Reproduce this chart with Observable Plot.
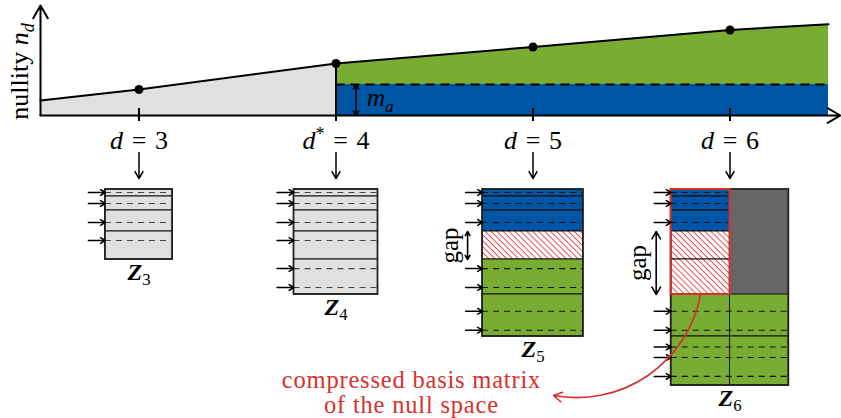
<!DOCTYPE html>
<html><head><meta charset="utf-8">
<script src="https://cdn.jsdelivr.net/npm/d3@7"></script>
<script src="https://cdn.jsdelivr.net/npm/@observablehq/plot@0.6"></script>
<style>
body{margin:0;background:#fff;}
#chart svg{display:block;}
</style></head><body><div id="chart"></div>
<script>
// ---------------- data ----------------
const dTicks = [3, 4, 5, 6];
const tickLabels = ["{i:d}\u2004=\u20043", "{i:d}{sup:*}\u2004=\u20044", "{i:d}\u2004=\u20045", "{i:d}\u2004=\u20046"];
const curveD = [2.5, 3, 4, 5, 6, 6.5];
const curveN = [1.5, 2.6, 5.2, 6.85, 8.55, 9.13];
const dStar = 4;
const mA = 3.1;
const yLabel = "nullity {i:n}{si:d}";
const mALabel = "{i:m}{si:a}";
const matrixD = [3, 4, 5, 6];
const matrixCols = [4, 5, 6, 7];
const matrixNames = ["{bi:Z}{sub:3}", "{bi:Z}{sub:4}", "{bi:Z}{sub:5}", "{bi:Z}{sub:6}"];
const blockSizes = [1, 2, 3, 4, 5, 6, 7];
const blockKinds = [
  ["g", "g", "g", "g"],
  ["g", "g", "g", "g", "g"],
  ["n", "n", "n", "gap", "e", "e"],
  ["n", "n", "n", "gap", "gap", "e", "e"]
];
const z6RightKinds = ["dk", "dk", "dk", "dk", "dk", "e", "e"];
const dashRows = [[0.43], [2.0], [4.71], [7.29], [11.3, 14.0], [17.4, 20.1], [22.5, 24.0, 26.7]];
const gapLabel = "gap";
const noteLines = ["compressed basis matrix", "of the null space"];

// ---------------- styles ----------------
const FONT = "'Liberation Serif', 'DejaVu Serif', serif";
const GRAY = "#e0e0e0", GREEN = "#78ac32", BLUE = "#0055a5", DARK = "#666666", RED = "#d9302c";
const FILL = {g: GRAY, n: BLUE, e: GREEN, gap: "url(#hatch)", dk: DARK};
const PX = 1 / 197; // one pixel in d units
const X = {domain: [2.5, 6.5], range: [40, 828], axis: null};

function richify(svg) {
  const NS = "http://www.w3.org/2000/svg";
  svg.querySelectorAll("text").forEach(t => {
    if (t.querySelector("tspan")) return;
    const s = t.textContent;
    if (!s.includes("{")) return;
    const fs = parseFloat(getComputedStyle(t).fontSize) || 20;
    t.textContent = "";
    const re = /\{(\w+):([^}]*)\}|([^{]+)/g;
    let m, cur = 0;
    while ((m = re.exec(s))) {
      const kind = m[1] || "n";
      const txt = m[1] ? m[2] : m[3];
      const ts = document.createElementNS(NS, "tspan");
      ts.textContent = txt;
      let target = 0;
      if (kind === "i" || kind === "si") ts.setAttribute("font-style", "italic");
      if (kind === "bi") { ts.setAttribute("font-style", "italic"); ts.setAttribute("font-weight", "bold"); }
      if (kind === "sub" || kind === "si") { ts.setAttribute("font-size", (0.7 * fs) + "px"); target = 0.22 * fs; }
      if (kind === "sup") { ts.setAttribute("font-size", (0.7 * fs) + "px"); target = -0.35 * fs; }
      if (target !== cur) { ts.setAttribute("dy", target - cur); cur = target; }
      t.appendChild(ts);
    }
  });
}

// ---------------- top chart ----------------
const curve = curveD.map((d, i) => ({d, n: curveN[i]}));
const nAt = d => curve.find(p => p.d === d).n;
const left = curve.filter(p => p.d <= dStar);
const right = curve.filter(p => p.d >= dStar);
const maX = dStar + 20 * PX;

const A = Plot.plot({
  width: 841, height: 185,
  x: X,
  y: {domain: [0, 11], range: [115, 5], axis: null},
  style: {fontFamily: FONT, background: "white", overflow: "visible"},
  marks: [
    Plot.areaY(left, {x: "d", y1: 0, y2: "n", fill: GRAY}),
    Plot.areaY(right, {x: "d", y1: mA, y2: "n", fill: GREEN}),
    Plot.areaY(right, {x: "d", y1: 0, y2: mA, fill: BLUE}),
    Plot.ruleY([mA], {x1: dStar, x2: 6.5, stroke: "black", strokeWidth: 2, strokeDasharray: "9,6"}),
    Plot.ruleX([dStar], {y1: 0, y2: nAt(dStar), stroke: "black", strokeWidth: 2}),
    Plot.line(curve, {x: "d", y: "n", stroke: "black", strokeWidth: 2}),
    Plot.dot(curve.filter(p => dTicks.includes(p.d)), {x: "d", y: "n", r: 4.5, fill: "black"}),
    Plot.ruleX(dTicks, {y1: 0.7, y2: -0.6, stroke: "black", strokeWidth: 2}),
    Plot.arrow([0], {x1: 2.5, x2: 6.56, y1: 0, y2: 0, stroke: "black", strokeWidth: 2, headLength: 11}),
    Plot.arrow([0], {x1: 2.5, x2: 2.5, y1: 0, y2: 11, stroke: "black", strokeWidth: 2, headLength: 11}),
    Plot.arrow([0], {x1: maX, x2: maX, y1: mA / 2, y2: 0, stroke: "black", strokeWidth: 1.6, headLength: 8}),
    Plot.arrow([0], {x1: maX, x2: maX, y1: mA / 2, y2: mA, stroke: "black", strokeWidth: 1.6, headLength: 8}),
    Plot.text([mALabel], {x: dStar + 31 * PX, y: mA / 2 + 0.2, text: d => d, textAnchor: "start", fontSize: 25, fill: "black"}),
    Plot.text(dTicks, {x: d => d, y: -2.5, text: (d, i) => tickLabels[i], fontSize: 26, fill: "black"}),
    Plot.arrow(dTicks, {x1: d => d, x2: d => d, y1: -3.7, y2: -6.3, stroke: "black", strokeWidth: 1.5, headLength: 8}),
    Plot.text([yLabel], {x: 2.5 - 21 * PX, y: 4.4, text: d => d, rotate: -90, fontSize: 26, fill: "black"})
  ]
});

// ---------------- matrices ----------------
const colW = 16.8 * PX;
const cum = [0];
blockSizes.forEach(s => cum.push(cum[cum.length - 1] + s));
const cells = [], dashes = [], rowArrows = [], frames = [], gaps = [], labels = [];
let redBox = null, z6ColMid = null;
matrixD.forEach((d, m) => {
  const w = matrixCols[m] * colW, x0 = d - w / 2, x1 = d + w / 2;
  const kinds = blockKinds[m];
  const split = m === matrixD.length - 1;
  const xMid = split ? d : x1;
  kinds.forEach((k, b) => {
    cells.push({x1: x0, x2: xMid, y1: cum[b], y2: cum[b + 1], kind: k});
    if (split) cells.push({x1: xMid, x2: x1, y1: cum[b], y2: cum[b + 1], kind: z6RightKinds[b]});
    if (k !== "gap") dashRows[b].forEach(y => {
      const xr = split && z6RightKinds[b] === k ? x1 : xMid;
      dashes.push({x1: x0, x2: xr, y, kind: k});
      rowArrows.push({x: x0, y});
    });
  });
  const gi = kinds.map((k, i) => k === "gap" ? i : -1).filter(i => i >= 0);
  if (gi.length) gaps.push({x: x0, y1: cum[gi[0]], y2: cum[gi[gi.length - 1] + 1]});
  if (split) {
    const last = gi[gi.length - 1] + 1;
    redBox = {x1: x0, x2: xMid, y1: 0, y2: cum[last]};
    z6ColMid = (x0 + xMid) / 2;
  }
  frames.push({x1: x0, x2: x1, y1: 0, y2: cum[kinds.length]});
  labels.push({x: d, y: cum[kinds.length] + 1.8, text: matrixNames[m]});
});

const B = Plot.plot({
  width: 841, height: 233,
  x: X,
  y: {domain: [0, 28], range: [4, 200], axis: null},
  color: {type: "identity"},
  style: {fontFamily: FONT, background: "white", overflow: "visible"},
  marks: [
    Plot.rect(cells, {x1: "x1", x2: "x2", y1: "y1", y2: "y2", fill: c => FILL[c.kind],
      stroke: c => c.kind === "dk" ? "none" : "#111", strokeWidth: 1}),
    Plot.ruleY(dashes, {y: "y", x1: "x1", x2: "x2", stroke: c => c.kind === "g" ? "#444" : "#111",
      strokeWidth: 1.1, strokeDasharray: "6,5"}),
    Plot.rect(frames, {x1: "x1", x2: "x2", y1: "y1", y2: "y2", fill: "none", stroke: "#222", strokeWidth: 1.8}),
    Plot.rect([redBox], {x1: "x1", x2: "x2", y1: "y1", y2: "y2", fill: "none", stroke: RED, strokeWidth: 2}),
    Plot.arrow(rowArrows, {x1: r => r.x - 17 * PX, x2: "x", y1: "y", y2: "y", stroke: "black", strokeWidth: 1.5, headLength: 7}),
    Plot.arrow(gaps, {x1: g => g.x - 15 * PX, x2: g => g.x - 15 * PX, y1: g => (g.y1 + g.y2) / 2, y2: "y1", stroke: "black", strokeWidth: 1.6, headLength: 8}),
    Plot.arrow(gaps, {x1: g => g.x - 15 * PX, x2: g => g.x - 15 * PX, y1: g => (g.y1 + g.y2) / 2, y2: "y2", stroke: "black", strokeWidth: 1.6, headLength: 8}),
    Plot.text(gaps, {x: g => g.x - 33 * PX, y: g => (g.y1 + g.y2) / 2, text: () => gapLabel, rotate: -90, fontSize: 25, fill: "black"}),
    Plot.text(labels, {x: "x", y: "y", text: "text", fontSize: 24, fill: "black"}),
    Plot.text([noteLines.join("\n")], {x: 4.383, y: 29.0, text: d => d, fill: RED, fontSize: 24.5, lineHeight: 1.0}),
    Plot.arrow([0], {x1: z6ColMid, y1: redBox.y2, x2: 5.104, y2: 29.43, bend: 45, stroke: RED, strokeWidth: 1.6, headLength: 9})
  ]
});

const defs = document.createElementNS("http://www.w3.org/2000/svg", "defs");
defs.innerHTML = '<pattern id="hatch" patternUnits="userSpaceOnUse" width="4.2" height="4.2" patternTransform="rotate(45)">' +
  '<rect width="4.2" height="4.2" fill="white"/><line x1="0" y1="0.5" x2="4.2" y2="0.5" stroke="#e03c3c" stroke-width="0.9"/></pattern>';
B.insertBefore(defs, B.firstChild);

const root = document.getElementById("chart");
root.appendChild(A);
root.appendChild(B);
B.querySelectorAll("text").forEach(t => { if (t.closest(`[fill="${RED}"]`)) t.style.letterSpacing = "0.8px"; });
richify(A);
richify(B);
</script></body></html>
